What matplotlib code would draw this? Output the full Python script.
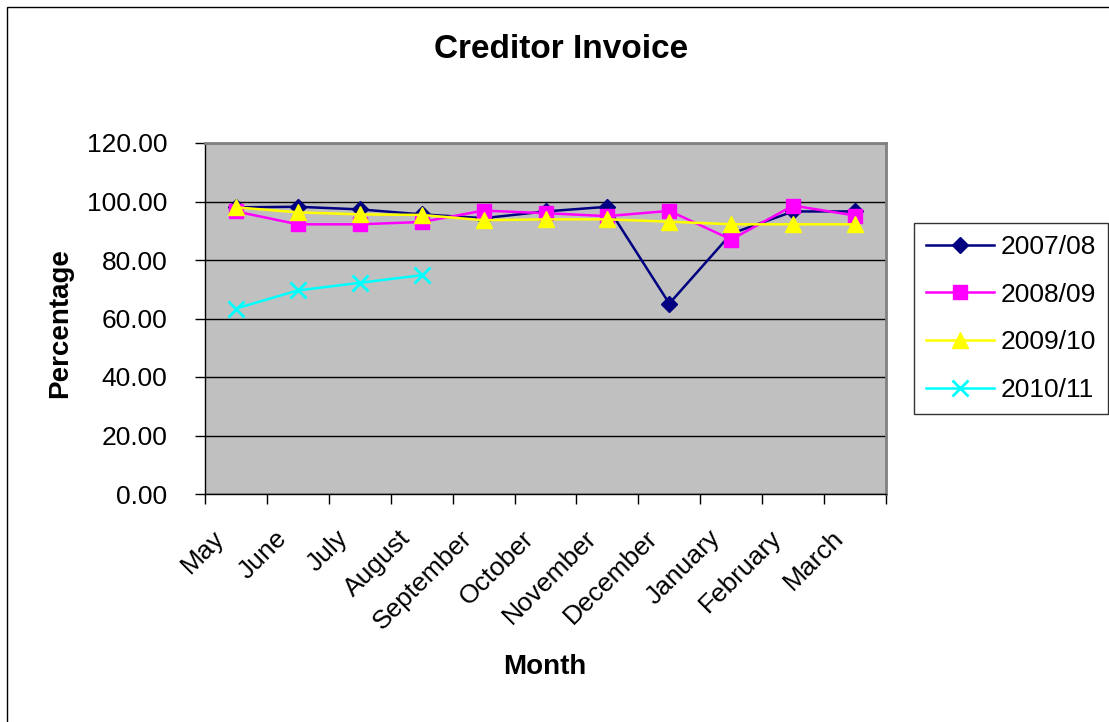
import matplotlib.pyplot as plt
from matplotlib.patches import Rectangle
from matplotlib.transforms import ScaledTranslation

plt.rcParams['font.family'] = ['Liberation Sans', 'DejaVu Sans']

months = ['May', 'June', 'July', 'August', 'September', 'October',
          'November', 'December', 'January', 'February', 'March']

# Percentage of creditor invoices per month, one list per financial year
fy_2007_08 = [98.0, 98.2, 97.3, 95.6, 94.3, 96.6, 98.2, 65.1, 89.0, 96.6, 96.6]
fy_2008_09 = [96.6, 92.2, 92.2, 93.0, 96.9, 96.0, 95.0, 96.8, 87.0, 98.6, 95.2]
fy_2009_10 = [98.0, 96.3, 95.6, 95.4, 93.6, 93.9, 93.9, 93.1, 92.2, 92.2, 92.2]
fy_2010_11 = [63.4, 69.6, 72.2, 74.8]

series = [
    ('2007/08', fy_2007_08, '#000080', 'D', 8.5),
    ('2008/09', fy_2008_09, '#FF00FF', 's', 10),
    ('2009/10', fy_2009_10, '#FFFF00', '^', 12),
    ('2010/11', fy_2010_11, '#00FFFF', 'x', 12),
]

fig = plt.figure(figsize=(11.09, 7.22), dpi=100)
ax = fig.add_axes([205 / 1109, 1 - 494 / 722, 681 / 1109, 351 / 722])
ax.set_facecolor('#C0C0C0')

x = list(range(len(months)))
for label, vals, color, marker, ms in series:
    ax.plot(x[:len(vals)], vals, color=color, lw=1.8, marker=marker,
            markersize=ms, markeredgewidth=2 if marker == 'x' else 1,
            markeredgecolor=color, markerfacecolor=color, label=label,
            clip_on=False)

ax.set_xlim(-0.5, len(months) - 0.5)
ax.set_ylim(0, 120)
ax.set_yticks(range(0, 121, 20))
ax.set_yticklabels([f'{v:.2f}' for v in range(0, 121, 20)])
ax.yaxis.grid(True, color='black', lw=1)
ax.set_axisbelow(True)

# category ticks sit between months, labels at the month centres
ax.set_xticks([i - 0.5 for i in range(len(months) + 1)])
ax.set_xticklabels([])
ax.set_xticks(x, minor=True)
ax.set_xticklabels(months, minor=True, rotation=45, ha='right',
                   va='center', rotation_mode='anchor')
ax.tick_params(axis='x', which='minor', length=0, pad=29, labelsize=19)
ax.tick_params(axis='x', which='major', length=7, width=1, direction='out')
ax.tick_params(axis='y', length=7, width=1, direction='out', pad=20,
               labelsize=19)
shift = ScaledTranslation(-0.15, 0, fig.dpi_scale_trans)
for lbl in ax.get_xticklabels(minor=True):
    lbl.set_transform(lbl.get_transform() + shift)

for side in ['top', 'right']:
    ax.spines[side].set_color('#808080')
    ax.spines[side].set_linewidth(2)
for side in ['left', 'bottom']:
    ax.spines[side].set_color('black')
    ax.spines[side].set_linewidth(1)

fig.text(561 / 1109, 1 - 49 / 722, 'Creditor Invoice', ha='center',
         va='center', fontsize=24, fontweight='bold')
fig.text(545 / 1109, 1 - 667 / 722, 'Month', ha='center', va='center',
         fontsize=20, fontweight='bold')
fig.text(60 / 1109, 1 - 323 / 722, 'Percentage', ha='center', va='center',
         rotation=90, fontsize=20, fontweight='bold')

leg = fig.legend(loc='upper left', bbox_to_anchor=(914 / 1109, 1 - 223 / 722),
                 fontsize=19, frameon=True, fancybox=False, borderaxespad=0,
                 handlelength=2.6, handletextpad=0.25, borderpad=0.45,
                 labelspacing=0.9)
leg.get_frame().set_edgecolor('black')
leg.get_frame().set_linewidth(1)

# outer chart border
fig.patches.append(Rectangle((7 / 1109, -0.1), 1.2, 1 - 7 / 722 + 0.1,
                             transform=fig.transFigure, fill=False,
                             edgecolor='black', lw=1))

fig.savefig('out.png', dpi=100)
